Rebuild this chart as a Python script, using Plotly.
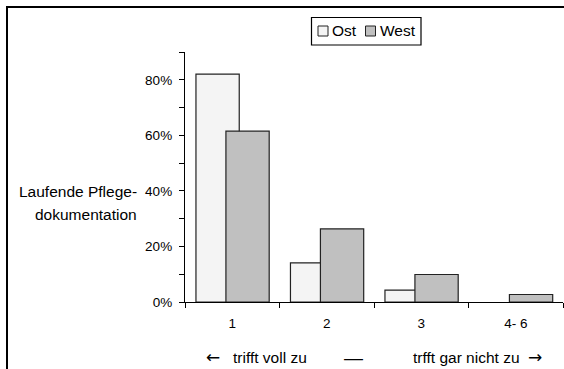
import plotly.graph_objects as go

# Kategorien (1 = trifft voll zu ... 4-6 = trifft gar nicht zu)
categories = ["1", "2", "3", "4- 6"]
ost = [0.820, 0.141, 0.043, 0.0]
west = [0.615, 0.263, 0.099, 0.027]
y_ticks = [0.0, 0.2, 0.4, 0.6, 0.8]
y_tick_labels = ["0%", "20%", "40%", "60%", "80%"]

FONT = "Liberation Sans, Arial, sans-serif"
ARROW_FONT = "DejaVu Sans, sans-serif"
W, H = 564, 369
ML, MR, MT, MB = 185, 1, 52, 67
PW = W - ML - MR
PH = H - MT - MB

x_pos = list(range(1, len(categories) + 1))


def outline(values):
    # keine Umrandung für leere Balken
    return dict(color="#222222", width=[1.2 if v > 0 else 0 for v in values])


fig = go.Figure()
fig.add_trace(go.Bar(
    name="Ost", x=x_pos, y=ost,
    offset=-0.384, width=0.458,
    marker=dict(color="#f4f4f4", line=outline(ost)),
    showlegend=False,
))
fig.add_trace(go.Bar(
    name="West", x=x_pos, y=west,
    offset=-0.067, width=0.458,
    marker=dict(color="#c0c0c0", line=outline(west)),
    showlegend=False,
))


def px_x(px):
    return (px - ML) / PW


def px_y(py):
    return (H - MB - py) / PH


shapes = [
    # Rahmen um die Grafik
    dict(type="rect", xref="paper", yref="paper",
         x0=px_x(7), x1=px_x(620), y0=px_y(420), y1=px_y(7),
         line=dict(color="black", width=2), fillcolor="rgba(0,0,0,0)"),
    # Legendenrahmen
    dict(type="rect", xref="paper", yref="paper",
         x0=px_x(311.5), x1=px_x(421), y0=px_y(45), y1=px_y(17.5),
         line=dict(color="black", width=1.2), fillcolor="white"),
    # Legendensymbole
    dict(type="rect", xref="paper", yref="paper",
         x0=px_x(318), x1=px_x(328), y0=px_y(36), y1=px_y(26),
         line=dict(color="#222222", width=1), fillcolor="#f4f4f4"),
    dict(type="rect", xref="paper", yref="paper",
         x0=px_x(365.5), x1=px_x(375.5), y0=px_y(36), y1=px_y(26),
         line=dict(color="#222222", width=1), fillcolor="#c0c0c0"),
]


def label(text, xpx, ypx, anchor, size, font=FONT):
    return dict(text=text, x=px_x(xpx), y=px_y(ypx), xref="paper", yref="paper",
                xanchor=anchor, yanchor="middle", align=anchor,
                showarrow=False, font=dict(family=font, size=size, color="black"))


annotations = [
    label("Ost", 330, 31, "left", 15.5),
    label("West", 377.5, 31, "left", 15.5),
    label("Laufende Pflege-", 139, 191, "right", 15.5),
    label("dokumentation", 139, 214, "right", 15.5),
    label("←", 204, 357, "left", 17, ARROW_FONT),
    label("trifft voll zu", 231, 357, "left", 15.5),
    label("—", 353, 357, "center", 19),
    label("trfft gar nicht zu", 522, 357, "right", 15.5),
    label("→", 544, 357, "right", 17, ARROW_FONT),
]

fig.update_layout(
    width=W, height=H,
    margin=dict(l=ML, r=MR, t=MT, b=MB),
    paper_bgcolor="white", plot_bgcolor="white",
    barmode="overlay",
    font=dict(family=FONT, size=13.5, color="black"),
    shapes=shapes,
    annotations=annotations,
    xaxis=dict(
        range=[0.5, 4.5],
        tickmode="array", tickvals=x_pos, ticktext=categories,
        ticks="", ticklabelstandoff=9,
        showline=True, linecolor="black", linewidth=1.3,
        showgrid=False, zeroline=False, fixedrange=True,
        minor=dict(tickmode="linear", tick0=0.5, dtick=1,
                   ticks="outside", ticklen=5, tickwidth=1.3,
                   tickcolor="black", showgrid=False),
        tickfont=dict(family=FONT, size=13.5),
    ),
    yaxis=dict(
        range=[0, 0.9],
        tickmode="array", tickvals=y_ticks, ticktext=y_tick_labels,
        ticks="outside", ticklen=5, tickwidth=1.3, tickcolor="black",
        ticklabelstandoff=4,
        showline=True, linecolor="black", linewidth=1.3,
        showgrid=False, zeroline=False, fixedrange=True,
        minor=dict(tickmode="linear", tick0=0, dtick=0.1,
                   ticks="outside", ticklen=5, tickwidth=1.3,
                   tickcolor="black", showgrid=False),
        tickfont=dict(family=FONT, size=13.5),
    ),
)

fig.write_html("out.html")
